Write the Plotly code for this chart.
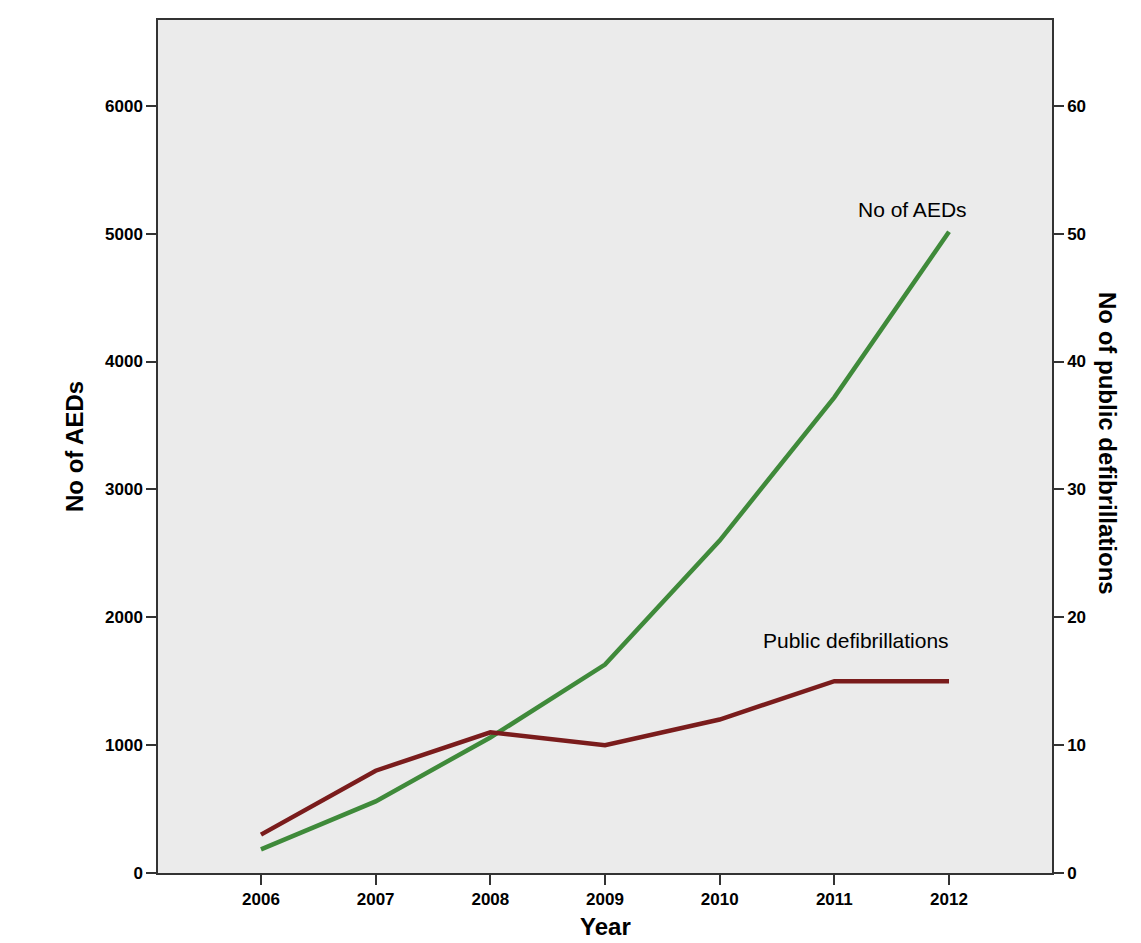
import plotly.graph_objects as go

# data
years = [2006, 2007, 2008, 2009, 2010, 2011, 2012]
aeds = [185, 560, 1060, 1630, 2600, 3720, 5015]
public_defib = [3, 8, 11, 10, 12, 15, 15]

left_ticks = [0, 1000, 2000, 3000, 4000, 5000, 6000]
right_ticks = [0, 10, 20, 30, 40, 50, 60]

FONT = "Liberation Sans, Arial"
tick_font = dict(family=FONT, size=17, color="black", weight="bold")

# plot area in page pixels (page body has an 8px margin)
PL, PR, PT, PB = 158, 1052, 18, 873
OFF = 8

fig = go.Figure()

fig.add_trace(go.Scatter(x=years, y=aeds, mode='lines', name='No of AEDs',
                         line=dict(color='#3f8a3a', width=4.5)))
fig.add_trace(go.Scatter(x=years, y=public_defib, mode='lines', name='Public defibrillations',
                         line=dict(color='#7a1c1c', width=4.5), yaxis='y2'))

axis_common = dict(ticks='outside', ticklen=10, tickwidth=1.5, tickcolor='#333',
                   showgrid=False, zeroline=False, showline=True, linecolor='#333',
                   linewidth=1.5, tickfont=tick_font)

fig.update_layout(
    width=1141, height=943,
    margin=dict(l=PL - OFF, r=1141 - (PR - OFF), t=PT - OFF, b=943 - (PB - OFF)),
    paper_bgcolor='white',
    plot_bgcolor='#ebebeb',
    showlegend=False,
    font=dict(family=FONT, color="black"),
    xaxis=dict(range=[2005.102, 2012.898], tickvals=years, mirror=True, **axis_common),
    yaxis=dict(range=[0, 6671], tickvals=left_ticks, **axis_common),
    yaxis2=dict(range=[0, 66.71], tickvals=right_ticks, overlaying='y', side='right',
                **axis_common),
)


def px_x(x):
    return (x - PL) / (PR - PL)


def px_y(y):
    return (PB - y) / (PB - PT)


title_font = dict(family=FONT, size=24, color="black", weight="bold")

fig.add_annotation(text="No of AEDs", x=px_x(75), y=px_y(446), xref='paper', yref='paper',
                   xanchor='center', yanchor='middle', textangle=-90, showarrow=False,
                   font=title_font)
fig.add_annotation(text="No of public defibrillations", x=px_x(1108), y=px_y(442),
                   xref='paper', yref='paper', xanchor='center', yanchor='middle',
                   textangle=90, showarrow=False, font=title_font)
fig.add_annotation(text="Year", x=px_x(605), y=px_y(927), xref='paper', yref='paper',
                   xanchor='center', yanchor='middle', showarrow=False, font=title_font)

fig.add_annotation(text="No of AEDs", x=2011.68, y=5190, xref='x', yref='y', showarrow=False,
                   font=dict(family=FONT, size=21, color="black"))
fig.add_annotation(text="Public defibrillations", x=2011.19, y=18.2, xref='x', yref='y2',
                   showarrow=False, font=dict(family=FONT, size=21, color="black"))

fig.write_html("out.html")
